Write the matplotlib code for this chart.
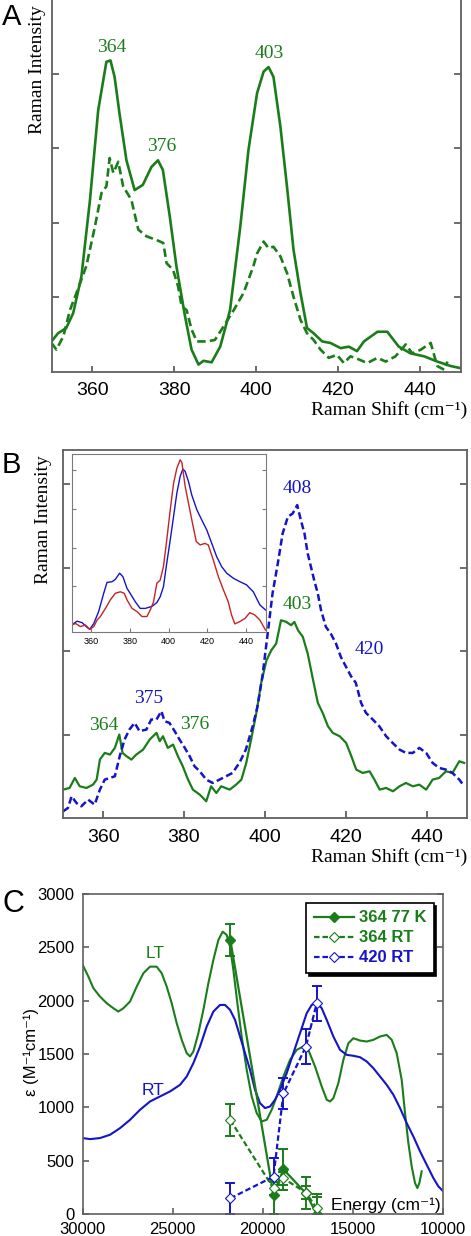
import matplotlib
matplotlib.use('Agg')
import matplotlib.pyplot as plt

GREEN = '#1a7d1a'
BLUE = '#1414c8'
RED = '#c42424'
SPINE = '#606060'
SERIF = 'Liberation Serif'
SANS = 'Liberation Sans'

# ---------------- Panel A data ----------------
a_shift_solid = [350, 351.6, 353.6, 355.3, 357.3, 359.4, 361.4, 363.4, 364.4, 365.4, 366.6, 368.3, 370.3,
                 372.3, 374.4, 376.0, 377.2, 378.9, 380.5, 382.6, 384.2, 385.9, 387.1, 389.1, 391.2, 393.6,
                 396.1, 398.1, 400.2, 401.8, 403.0, 404.2, 405.9, 407.5, 409.1, 410.8, 412.4, 414.0, 416.1,
                 418.1, 420.6, 422.6, 424.6, 426.3, 429.6, 432.0, 434.8, 437.7, 441.0, 444.2, 447.5, 450]
a_int_solid = [0.41, 0.52, 0.59, 0.79, 1.28, 2.31, 3.51, 4.16, 4.18, 3.96, 3.47, 2.84, 2.44,
               2.51, 2.75, 2.84, 2.71, 2.08, 1.42, 0.75, 0.30, 0.10, 0.15, 0.13, 0.34, 0.83,
               1.95, 2.98, 3.74, 4.03, 4.09, 3.96, 3.29, 2.49, 1.64, 1.06, 0.59, 0.52, 0.41,
               0.39, 0.32, 0.34, 0.28, 0.41, 0.54, 0.54, 0.34, 0.25, 0.21, 0.14, 0.08, 0.05]
a_shift_dash = [350, 351.2, 352.9, 354.5, 356.1, 358.5, 360.6, 362.2, 363.4, 364.2, 365.1, 366.3, 367.5,
                369.5, 371.2, 373.2, 375.7, 377.3, 378.1, 379.7, 380.9, 381.8, 383.0, 384.2, 385.5, 387.9,
                389.9, 391.2, 392.8, 394.5, 396.9, 399.3, 400.2, 401.8, 403.0, 404.2, 405.9, 407.5, 409.1,
                410.8, 412.4, 414.0, 415.7, 417.7, 419.7, 421.4, 423.0, 425.0, 427.1, 429.6, 431.6, 434.0,
                436.5, 438.1, 440.2, 442.6, 444.2, 445.9, 446.7]
a_int_dash = [0.39, 0.30, 0.48, 0.83, 1.06, 1.42, 1.95, 2.40, 2.49, 2.87, 2.67, 2.82, 2.49,
              2.31, 1.91, 1.82, 1.77, 1.73, 1.46, 1.37, 1.15, 0.88, 0.83, 0.57, 0.41, 0.41,
              0.43, 0.54, 0.68, 0.83, 1.06, 1.42, 1.59, 1.75, 1.66, 1.68, 1.55, 1.33, 1.01,
              0.70, 0.52, 0.43, 0.30, 0.19, 0.23, 0.12, 0.21, 0.17, 0.12, 0.19, 0.14, 0.21,
              0.37, 0.25, 0.30, 0.39, 0.08, 0.03, 0.14]
a_labels = ['364', '376', '403']

# ---------------- Panel B data ----------------
b_shift_green = [350.1, 351.7, 353.0, 354.2, 355.9, 357.5, 358.4, 359.2, 360.4, 361.7, 362.9, 364.0, 364.8,
                 365.8, 367.0, 368.2, 369.9, 371.5, 373.2, 374.0, 374.8, 376.0, 377.3, 378.5, 379.7, 381.0,
                 382.2, 383.9, 385.5, 386.7, 388.0, 389.2, 391.3, 392.9, 394.2, 395.4, 396.6, 397.9, 399.1,
                 400.4, 401.6, 402.8, 404.0, 405.3, 406.5, 407.3, 408.2, 409.4, 410.6, 411.9, 413.1, 414.3,
                 415.6, 416.8, 418.5, 420.1, 421.4, 422.6, 424.2, 425.9, 427.1, 428.4, 430.0, 431.7, 433.3,
                 434.9, 436.6, 438.2, 439.9, 441.5, 443.1, 444.8, 446.4, 448.1, 449.3]
b_int_green = [0.34, 0.36, 0.48, 0.38, 0.36, 0.40, 0.46, 0.70, 0.78, 0.76, 0.84, 1.00, 0.78,
               0.74, 0.70, 0.76, 0.82, 0.94, 1.02, 0.92, 0.98, 0.84, 0.88, 0.74, 0.62, 0.46,
               0.34, 0.28, 0.20, 0.38, 0.30, 0.38, 0.34, 0.40, 0.46, 0.66, 0.94, 1.26, 1.62,
               1.89, 2.01, 2.09, 2.37, 2.35, 2.31, 2.35, 2.25, 2.17, 1.97, 1.66, 1.38, 1.26,
               1.10, 1.02, 0.98, 0.90, 0.74, 0.58, 0.54, 0.56, 0.46, 0.34, 0.36, 0.32, 0.38,
               0.42, 0.38, 0.40, 0.34, 0.46, 0.48, 0.56, 0.54, 0.68, 0.66]
b_shift_blue = [350.1, 351.3, 352.2, 353.4, 354.6, 356.3, 357.9, 359.2, 360.4, 361.7, 362.9, 364.1, 365.3,
                366.5, 367.8, 369.0, 370.7, 371.9, 373.2, 374.4, 375.2, 376.4, 377.7, 378.9, 380.2, 381.4,
                382.6, 383.9, 385.5, 387.1, 388.8, 390.4, 392.0, 393.7, 395.3, 397.0, 398.2, 399.4, 400.7,
                401.9, 403.2, 404.4, 405.7, 406.9, 408.0, 408.9, 409.8, 410.6, 411.4, 412.2, 413.1, 413.9,
                415.1, 416.3, 417.6, 418.8, 420.1, 421.3, 422.5, 423.8, 425.0, 426.7, 428.3, 430.0, 431.6,
                433.3, 434.9, 436.6, 438.2, 439.9, 441.5, 443.1, 444.8, 446.4, 448.1, 449.3]
b_int_blue = [0.08, 0.12, 0.26, 0.18, 0.14, 0.22, 0.16, 0.34, 0.46, 0.48, 0.50, 0.74, 0.94,
              1.06, 1.14, 1.04, 1.06, 1.18, 1.18, 1.28, 1.16, 1.14, 1.04, 0.94, 0.84, 0.74,
              0.62, 0.56, 0.46, 0.42, 0.46, 0.50, 0.54, 0.66, 0.82, 1.10, 1.34, 1.70, 2.21,
              2.69, 3.05, 3.41, 3.61, 3.65, 3.75, 3.57, 3.41, 3.17, 3.01, 2.85, 2.69, 2.49,
              2.29, 2.21, 2.09, 1.93, 1.81, 1.70, 1.62, 1.38, 1.26, 1.18, 1.10, 0.98, 0.90,
              0.82, 0.78, 0.78, 0.84, 0.78, 0.66, 0.60, 0.58, 0.54, 0.46, 0.38]

# inset
in_shift_blue = [350, 352.9, 355.5, 358, 359.4, 361.5, 364, 366.6, 368.3, 370.9, 372.6, 374.8, 376.5,
                 378.6, 380.7, 382.9, 385.4, 388, 391.4, 394, 395.7, 397.4, 399.1, 400.9, 402.6, 404.3,
                 406, 407.4, 408.6, 410.3, 412, 414.6, 417.1, 419.7, 422.3, 424.8, 427.4, 430, 433.4,
                 436.8, 440.2, 443.7, 447.1, 450]
in_int_blue = [0.18, 0.28, 0.24, 0.12, 0.07, 0.22, 0.53, 1.0, 1.28, 1.30, 1.36, 1.52, 1.43,
               1.13, 0.96, 0.78, 0.61, 0.61, 0.66, 0.76, 0.91, 1.17, 1.78, 2.38, 2.98, 3.59,
               4.02, 4.21, 4.15, 3.89, 3.54, 3.16, 2.90, 2.64, 2.29, 1.95, 1.69, 1.52, 1.39,
               1.30, 1.22, 1.04, 0.70, 0.57]
in_shift_red = [350, 352.1, 354.6, 357.2, 359.4, 361.5, 363.2, 364.9, 367.5, 370, 372.6, 375.2, 377.2,
                378.6, 381.2, 383.7, 386.3, 388.9, 390.6, 392.3, 394, 395.7, 397.4, 399.1, 400.9, 402.6,
                404.3, 406, 406.9, 408.6, 410.3, 412, 414.3, 416.3, 418.8, 420.5, 423.1, 425.7, 428.3,
                430.8, 432.5, 434.2, 436.8, 439.4, 441.9, 444.5, 447.1, 450]
in_int_red = [0.18, 0.22, 0.14, 0.18, 0.07, 0.14, 0.31, 0.40, 0.61, 0.83, 1.0, 1.04, 1.0,
              0.83, 0.61, 0.53, 0.40, 0.40, 0.57, 0.78, 1.26, 1.34, 1.69, 2.38, 3.16, 3.84,
              4.23, 4.45, 4.38, 3.76, 3.33, 2.90, 2.34, 2.25, 2.29, 2.25, 1.86, 1.43, 1.09,
              0.78, 0.44, 0.21, 0.27, 0.35, 0.50, 0.44, 0.31, 0.05]

# ---------------- Panel C data ----------------
c_energy_lt = [30000, 29685, 29407, 29037, 28667, 28296, 28019, 27741, 27370, 26999, 26630, 26259, 25889,
               25611, 25333, 25056, 24778, 24500, 24222, 24037, 23852, 23574, 23296, 23019, 22741, 22463,
               22222, 22000, 21815, 21630, 21407, 21167, 20889, 20611, 20333, 20056, 19778, 19500, 19222,
               18852, 18481, 18111, 17741, 17463, 17093, 16722, 16444, 16259, 16074, 15796, 15519, 15241,
               14963, 14593, 14222, 13852, 13481, 13111, 12833, 12556, 12278, 12093, 11907, 11722, 11537,
               11407, 11296, 11167]
c_eps_lt = [2335, 2226, 2117, 2038, 1976, 1929, 1898, 1929, 1992, 2132, 2257, 2319, 2319,
            2257, 2132, 1976, 1789, 1633, 1508, 1477, 1523, 1695, 1914, 2163, 2382, 2569,
            2647, 2616, 2507, 2288, 1976, 1664, 1352, 1102, 946, 868, 883, 977, 1102,
            1289, 1445, 1539, 1570, 1539, 1383, 1196, 1071, 1055, 1086, 1227, 1445, 1601,
            1648, 1626, 1617, 1633, 1664, 1679, 1633, 1508, 1258, 946, 665, 446, 290,
            243, 290, 400]
c_energy_rt = [30000, 29593, 29037, 28481, 27926, 27370, 26815, 26259, 25704, 25148, 24593, 24222, 23852,
               23481, 23111, 22741, 22370, 22093, 21815, 21537, 21259, 20981, 20704, 20426, 20148, 19870,
               19593, 19315, 19037, 18667, 18296, 17926, 17556, 17278, 17000, 16722, 16444, 16074, 15704,
               15333, 14963, 14593, 14222, 13852, 13481, 13111, 12741, 12370, 12000, 11630, 11259, 10889,
               10518, 10241, 10000]
c_eps_rt = [712, 702, 712, 743, 805, 883, 977, 1055, 1102, 1149, 1211, 1289, 1414,
            1570, 1758, 1898, 1960, 1960, 1914, 1820, 1664, 1508, 1352, 1164, 1039, 993,
            1008, 1071, 1164, 1320, 1508, 1695, 1882, 1960, 1982, 1929, 1820, 1664, 1539,
            1492, 1483, 1470, 1430, 1367, 1289, 1211, 1118, 993, 852, 727, 587, 462,
            337, 259, 218]
exc_energy = [21800, 19400, 18850, 17600, 17000]
prof_364_77K = [2570, 178, 419, 194, 0]
err_364_77K = [150, 180, 195, 150, 190]
prof_364_RT = [881, 240, 334, 200, 55]
err_364_RT = [150, 60, 60, 60, 100]
prof_420_RT = [147, 350, 1131, 1570, 1975]
err_420_RT = [145, 175, 148, 165, 165]
legend_labels = ['364 77 K', '364 RT', '420 RT']

# ---------------- figure ----------------
W, H = 471, 1236
fig = plt.figure(figsize=(W / 100, H / 100), dpi=100)
SERIF_L = [SERIF, 'DejaVu Serif']
SANS_L = [SANS, 'DejaVu Sans']


def rect(x0, y0, x1, y1):
    return [x0 / W, 1 - y1 / H, (x1 - x0) / W, (y1 - y0) / H]


def style(ax, length, lsize, pad, color, lw, family):
    for s in ax.spines.values():
        s.set_color(color)
        s.set_linewidth(lw)
    ax.tick_params(direction='in', length=length, width=lw, color=color,
                   labelsize=lsize, pad=pad, left=True, right=True, top=False, bottom=True)
    for lab in ax.get_xticklabels() + ax.get_yticklabels():
        lab.set_family(family)


# Panel A
axA = fig.add_axes(rect(51.5, 0, 461, 372))
axA.plot(a_shift_solid, a_int_solid, color=GREEN, lw=1.9, solid_joinstyle='round')
axA.plot(a_shift_dash, a_int_dash, color=GREEN, lw=1.9, linestyle=(0, (3.2, 1.6)))
axA.set_xlim(350, 450)
axA.set_ylim(0, 4.99)
axA.set_xticks([360, 380, 400, 420, 440])
axA.set_yticks([1, 2, 3, 4])
axA.set_yticklabels([])
axA.spines['top'].set_visible(False)
style(axA, 5, 14, 7, SPINE, 1.3, SANS)
axA.tick_params(axis='x', length=4.5)
for lab, (x, y) in zip(a_labels, [(364.7, 4.29), (376.9, 2.97), (403.2, 4.21)]):
    axA.text(x, y, lab, color=GREEN, family=SERIF, fontsize=14, ha='center', va='baseline')
fig.text(467 / W, 1 - 415 / H, 'Raman Shift (cm⁻¹)', family=SERIF_L, fontsize=14,
         ha='right', va='baseline')
fig.text(37 / W, 1 - 5 / H, 'Raman Intensity', family=SERIF, fontsize=14, rotation=90,
         ha='center', va='top')
fig.text(2 / W, 1 - 25 / H, 'A', family=SANS, fontsize=21, ha='left', va='baseline')

# Panel B
axB = fig.add_axes(rect(62.7, 450, 467, 818))
axB.plot(b_shift_green, b_int_green, color=GREEN, lw=1.6)
axB.plot(b_shift_blue, b_int_blue, color=BLUE, lw=1.8, linestyle=(0, (2.8, 1.4)))
axB.set_xlim(350, 450)
axB.set_ylim(0, 4.41)
axB.set_xticks([360, 380, 400, 420, 440])
axB.set_yticks([1, 2, 3, 4])
axB.set_yticklabels([])
style(axB, 5, 14, 8, SPINE, 1.3, SANS)
for lab, (x, y), col in zip(['408', '403', '420', '375', '364', '376'],
                            [(408.0, 3.89), (408.1, 2.50), (425.8, 1.97), (371.3, 1.38),
                             (360.2, 1.06), (382.6, 1.07)],
                            [BLUE, GREEN, BLUE, BLUE, GREEN, GREEN]):
    axB.text(x, y, lab, color=col, family=SERIF, fontsize=14, ha='center', va='baseline')
fig.text(467 / W, 1 - 862 / H, 'Raman Shift (cm⁻¹)', family=SERIF_L, fontsize=14,
         ha='right', va='baseline')
fig.text(44 / W, 1 - 455 / H, 'Raman Intensity', family=SERIF, fontsize=14, rotation=90,
         ha='center', va='top')
fig.text(2 / W, 1 - 473 / H, 'B', family=SANS, fontsize=21, ha='left', va='baseline')

# inset
axIn = fig.add_axes(rect(71.5, 454, 265.5, 632))
axIn.plot(in_shift_blue, in_int_blue, color=BLUE, lw=1.0)
axIn.plot(in_shift_red, in_int_red, color=RED, lw=1.0)
axIn.set_xlim(350, 450)
axIn.set_ylim(0, 4.6)
axIn.set_xticks([360, 380, 400, 420, 440])
axIn.set_yticks([1.19, 2.18, 3.17, 4.19])
axIn.set_yticklabels([])
style(axIn, 3, 6.5, 3.5, '#7a7a7a', 0.8, SANS)

# Panel C
axC = fig.add_axes(rect(82.7, 894, 442.7, 1214))
axC.plot(c_energy_lt, c_eps_lt, color=GREEN, lw=1.5)
axC.plot(c_energy_rt, c_eps_rt, color=BLUE, lw=1.5)
axC.errorbar(exc_energy, prof_364_77K, yerr=err_364_77K, fmt='none', ecolor=GREEN, elinewidth=1.4,
             capsize=3.5, capthick=1.4)
axC.errorbar(exc_energy, prof_364_RT, yerr=err_364_RT, fmt='none', ecolor=GREEN, elinewidth=1.4,
             capsize=3.5, capthick=1.4)
axC.errorbar(exc_energy, prof_420_RT, yerr=err_420_RT, fmt='none', ecolor=BLUE, elinewidth=1.4,
             capsize=3.5, capthick=1.4)
h1, = axC.plot(exc_energy, prof_364_77K, color=GREEN, lw=1.6, marker='D', ms=5,
               mfc=GREEN, mec=GREEN, label=legend_labels[0])
h2, = axC.plot(exc_energy, prof_364_RT, color=GREEN, lw=1.6, linestyle=(0, (2.5, 1.3)), marker='D',
               ms=5, mfc='white', mec=GREEN, mew=0.8, label=legend_labels[1])
h3, = axC.plot(exc_energy, prof_420_RT, color=BLUE, lw=1.6, linestyle=(0, (2.5, 1.3)), marker='D',
               ms=5, mfc='white', mec=BLUE, mew=0.8, label=legend_labels[2])
axC.set_xlim(30000, 10000)
axC.set_ylim(0, 3000)
axC.set_xticks([30000, 25000, 20000, 15000, 10000])
axC.set_yticks([0, 500, 1000, 1500, 2000, 2500, 3000])
style(axC, 4, 12, 6, SPINE, 1.2, SANS)
axC.tick_params(axis='x', pad=6)
axC.tick_params(axis='y', pad=6)
leg = axC.legend(handles=[h1, h2, h3], loc='upper right', bbox_to_anchor=(0.975, 0.972),
                 borderaxespad=0, prop={'family': SANS, 'weight': 'bold', 'size': 12},
                 labelcolor='linecolor', fancybox=False, shadow={'color': 'black', 'alpha': 1},
                 edgecolor='black', framealpha=1, handlelength=2.4, numpoints=1,
                 handletextpad=0.3, borderpad=0.45, labelspacing=0.3)
leg.get_frame().set_linewidth(1.2)
axC.text(25983, 2397, 'LT', color=GREEN, family=SANS, fontsize=12.5, ha='center', va='baseline')
axC.text(26078, 1116, 'RT', color=BLUE, family=SANS, fontsize=12.5, ha='center', va='baseline')
axC.text(0.995, 0.012, 'Energy (cm⁻¹)', transform=axC.transAxes, family=SANS_L,
         fontsize=12.5, ha='right', va='baseline')
fig.text(31 / W, 1 - 1052 / H, 'ε (M⁻¹cm⁻¹)', family=SANS_L,
         fontsize=12, rotation=90, ha='center', va='center')
fig.text(3 / W, 1 - 912 / H, 'C', family=SANS, fontsize=22, ha='left', va='baseline')

fig.savefig('out.png', dpi=100)
